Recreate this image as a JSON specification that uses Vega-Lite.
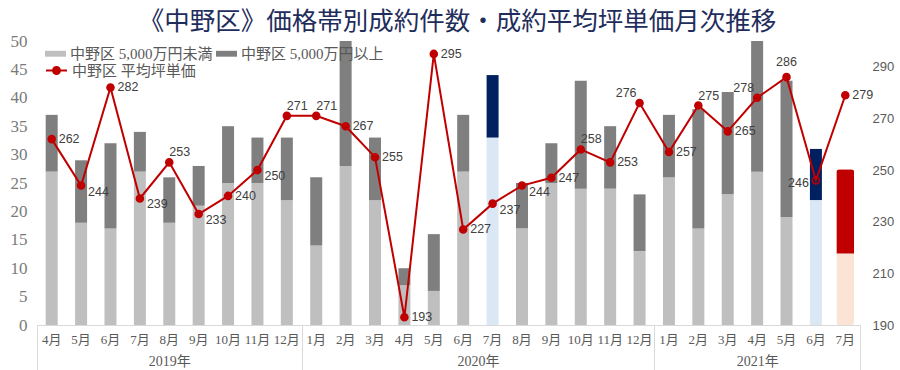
{
  "$schema": "https://vega.github.io/schema/vega-lite/v6.json",
  "width": 823,
  "height": 284,
  "autosize": {"type": "none"},
  "padding": {"left": 37, "top": 41, "right": 40, "bottom": 45},
  "background": "white",
  "config": {"view": {"stroke": null}, "axis": {"grid": false}},
  "title": {
    "text": "《中野区》価格帯別成約件数・成約平均坪単価月次推移",
    "font": "Noto Sans CJK JP",
    "fontSize": 25.5,
    "fontWeight": "normal",
    "color": "#1f2d5c",
    "anchor": "middle",
    "offset": -3,
    "dx": 9
  },
  "datasets": {
    "counts": [
      {"ym": "2019-04", "series": "中野区 5,000万円未満", "count": 27}, {"ym": "2019-04", "series": "中野区 5,000万円以上", "count": 10},
      {"ym": "2019-05", "series": "中野区 5,000万円未満", "count": 18}, {"ym": "2019-05", "series": "中野区 5,000万円以上", "count": 11},
      {"ym": "2019-06", "series": "中野区 5,000万円未満", "count": 17}, {"ym": "2019-06", "series": "中野区 5,000万円以上", "count": 15},
      {"ym": "2019-07", "series": "中野区 5,000万円未満", "count": 27}, {"ym": "2019-07", "series": "中野区 5,000万円以上", "count": 7},
      {"ym": "2019-08", "series": "中野区 5,000万円未満", "count": 18}, {"ym": "2019-08", "series": "中野区 5,000万円以上", "count": 8},
      {"ym": "2019-09", "series": "中野区 5,000万円未満", "count": 21}, {"ym": "2019-09", "series": "中野区 5,000万円以上", "count": 7},
      {"ym": "2019-10", "series": "中野区 5,000万円未満", "count": 25}, {"ym": "2019-10", "series": "中野区 5,000万円以上", "count": 10},
      {"ym": "2019-11", "series": "中野区 5,000万円未満", "count": 25}, {"ym": "2019-11", "series": "中野区 5,000万円以上", "count": 8},
      {"ym": "2019-12", "series": "中野区 5,000万円未満", "count": 22}, {"ym": "2019-12", "series": "中野区 5,000万円以上", "count": 11},
      {"ym": "2020-01", "series": "中野区 5,000万円未満", "count": 14}, {"ym": "2020-01", "series": "中野区 5,000万円以上", "count": 12},
      {"ym": "2020-02", "series": "中野区 5,000万円未満", "count": 28}, {"ym": "2020-02", "series": "中野区 5,000万円以上", "count": 22},
      {"ym": "2020-03", "series": "中野区 5,000万円未満", "count": 22}, {"ym": "2020-03", "series": "中野区 5,000万円以上", "count": 11},
      {"ym": "2020-04", "series": "中野区 5,000万円未満", "count": 7}, {"ym": "2020-04", "series": "中野区 5,000万円以上", "count": 3},
      {"ym": "2020-05", "series": "中野区 5,000万円未満", "count": 6}, {"ym": "2020-05", "series": "中野区 5,000万円以上", "count": 10},
      {"ym": "2020-06", "series": "中野区 5,000万円未満", "count": 27}, {"ym": "2020-06", "series": "中野区 5,000万円以上", "count": 10},
      {"ym": "2020-07", "series": "中野区 5,000万円未満", "count": 33}, {"ym": "2020-07", "series": "中野区 5,000万円以上", "count": 11},
      {"ym": "2020-08", "series": "中野区 5,000万円未満", "count": 17}, {"ym": "2020-08", "series": "中野区 5,000万円以上", "count": 8},
      {"ym": "2020-09", "series": "中野区 5,000万円未満", "count": 25}, {"ym": "2020-09", "series": "中野区 5,000万円以上", "count": 7},
      {"ym": "2020-10", "series": "中野区 5,000万円未満", "count": 24}, {"ym": "2020-10", "series": "中野区 5,000万円以上", "count": 19},
      {"ym": "2020-11", "series": "中野区 5,000万円未満", "count": 24}, {"ym": "2020-11", "series": "中野区 5,000万円以上", "count": 11},
      {"ym": "2020-12", "series": "中野区 5,000万円未満", "count": 13}, {"ym": "2020-12", "series": "中野区 5,000万円以上", "count": 10},
      {"ym": "2021-01", "series": "中野区 5,000万円未満", "count": 26}, {"ym": "2021-01", "series": "中野区 5,000万円以上", "count": 11},
      {"ym": "2021-02", "series": "中野区 5,000万円未満", "count": 17}, {"ym": "2021-02", "series": "中野区 5,000万円以上", "count": 21},
      {"ym": "2021-03", "series": "中野区 5,000万円未満", "count": 23}, {"ym": "2021-03", "series": "中野区 5,000万円以上", "count": 18},
      {"ym": "2021-04", "series": "中野区 5,000万円未満", "count": 27}, {"ym": "2021-04", "series": "中野区 5,000万円以上", "count": 23},
      {"ym": "2021-05", "series": "中野区 5,000万円未満", "count": 19}, {"ym": "2021-05", "series": "中野区 5,000万円以上", "count": 24},
      {"ym": "2021-06", "series": "中野区 5,000万円未満", "count": 22}, {"ym": "2021-06", "series": "中野区 5,000万円以上", "count": 9},
      {"ym": "2021-07", "series": "中野区 5,000万円未満", "count": 12.6}, {"ym": "2021-07", "series": "中野区 5,000万円以上", "count": 14.8}
    ],
    "prices": [
      {"ym": "2019-04", "price": 262}, {"ym": "2019-05", "price": 244}, {"ym": "2019-06", "price": 282},
      {"ym": "2019-07", "price": 239}, {"ym": "2019-08", "price": 253}, {"ym": "2019-09", "price": 233},
      {"ym": "2019-10", "price": 240}, {"ym": "2019-11", "price": 250}, {"ym": "2019-12", "price": 271},
      {"ym": "2020-01", "price": 271}, {"ym": "2020-02", "price": 267}, {"ym": "2020-03", "price": 255},
      {"ym": "2020-04", "price": 193}, {"ym": "2020-05", "price": 295}, {"ym": "2020-06", "price": 227},
      {"ym": "2020-07", "price": 237}, {"ym": "2020-08", "price": 244}, {"ym": "2020-09", "price": 247},
      {"ym": "2020-10", "price": 258}, {"ym": "2020-11", "price": 253}, {"ym": "2020-12", "price": 276},
      {"ym": "2021-01", "price": 257}, {"ym": "2021-02", "price": 275}, {"ym": "2021-03", "price": 265},
      {"ym": "2021-04", "price": 278}, {"ym": "2021-05", "price": 286}, {"ym": "2021-06", "price": 246},
      {"ym": "2021-07", "price": 279}
    ]
  },
  "layer": [
    {
      "data": {"name": "counts"},
      "encoding": {
        "x": {
          "field": "ym",
          "type": "ordinal",
          "scale": {"paddingInner": 0, "paddingOuter": 0},
          "axis": {
            "orient": "bottom",
            "title": null,
            "ticks": false,
            "domainColor": "#d9d9d9",
            "labelExpr": "toNumber(slice(datum.value, 5)) + '月'",
            "labelFont": "Liberation Serif, Noto Sans CJK JP",
            "labelFontSize": 13,
            "labelColor": "#595959",
            "labelPadding": 8,
            "labelAngle": 0,
            "labelOverlap": false
          }
        },
        "y": {
          "field": "count",
          "type": "quantitative",
          "stack": "zero",
          "scale": {"domain": [0, 50], "nice": false},
          "axis": {
            "title": null,
            "values": [0, 5, 10, 15, 20, 25, 30, 35, 40, 45, 50],
            "ticks": false,
            "domain": false,
            "labelFont": "Liberation Serif",
            "labelFontSize": 17,
            "labelColor": "#7a7a7a",
            "labelPadding": 10
          }
        },
        "color": {
          "field": "series",
          "type": "nominal",
          "scale": {"domain": ["中野区 5,000万円未満", "中野区 5,000万円以上"], "range": ["#bfbfbf", "#7f7f7f"]},
          "legend": {
            "title": null,
            "orient": "none",
            "legendX": 8,
            "legendY": 2,
            "direction": "horizontal",
            "symbolType": "M-1,-0.28H1V0.28H-1Z",
            "symbolSize": 441,
            "symbolStrokeWidth": 0,
            "labelFont": "Liberation Serif, Noto Sans CJK JP",
            "labelFontSize": 15,
            "labelColor": "#595959",
            "labelOffset": 4,
            "columnPadding": 3
          },
          "condition": [
            {"test": "(datum.ym == '2020-07' || datum.ym == '2021-06') && datum.series == '中野区 5,000万円未満'", "value": "#dae8f6"},
            {"test": "(datum.ym == '2020-07' || datum.ym == '2021-06') && datum.series == '中野区 5,000万円以上'", "value": "#002060"},
            {"test": "datum.ym == '2021-07' && datum.series == '中野区 5,000万円未満'", "value": "#fbe4d5"},
            {"test": "datum.ym == '2021-07' && datum.series == '中野区 5,000万円以上'", "value": "#c00000"}
          ]
        },
        "order": {"field": "series", "sort": "descending"}
      },
      "layer": [
        {"transform": [{"filter": "datum.ym != '2021-07'"}], "mark": {"type": "bar", "size": 12}},
        {"transform": [{"filter": "datum.ym == '2021-07'"}], "mark": {"type": "bar", "size": 18, "cornerRadius": 3}}
      ]
    },
    {
      "data": {"name": "prices"},
      "encoding": {
        "x": {
          "field": "ym",
          "type": "ordinal",
          "axis": {
            "orient": "bottom",
            "title": null,
            "domain": false,
            "tickBand": "extent",
            "tickSize": 45,
            "tickWidth": 1,
            "tickColor": {"condition": {"test": "datum.extra || indexof(['2019-12', '2020-12', '2021-07'], datum.value) >= 0", "value": "#d9d9d9"}, "value": "rgba(0,0,0,0)"},
            "labelExpr": "datum.value == '2019-08' ? '2019年' : datum.value == '2020-06' ? '2020年' : datum.value == '2021-04' ? '2021年' : ''",
            "labelOffset": {"condition": {"test": "datum.value == '2020-06'", "value": 14.7}, "value": 0},
            "labelPadding": -16,
            "labelFont": "Liberation Serif, Noto Sans CJK JP",
            "labelFontSize": 14,
            "labelColor": "#595959",
            "labelAngle": 0,
            "labelOverlap": false
          }
        },
        "y": {
          "field": "price",
          "type": "quantitative",
          "scale": {"domain": [190, 300], "nice": false, "zero": false},
          "axis": {
            "orient": "right",
            "title": null,
            "values": [190, 210, 230, 250, 270, 290],
            "ticks": false,
            "domain": false,
            "labelFont": "Liberation Sans",
            "labelFontSize": 13,
            "labelColor": "#595959",
            "labelPadding": 12
          }
        }
      },
      "layer": [
        {
          "mark": {"type": "line", "strokeWidth": 2},
          "encoding": {
            "stroke": {
              "datum": "中野区 平均坪単価",
              "type": "nominal",
              "scale": {"range": ["#c00000"]},
              "legend": {
                "title": null,
                "orient": "none",
                "legendX": 8,
                "legendY": 18,
                "symbolType": "M-1,0H1M-0.33,0A0.33,0.33,0,1,0,0.33,0A0.33,0.33,0,1,0,-0.33,0Z",
                "symbolSize": 441,
                "symbolStrokeWidth": 2,
                "symbolStrokeColor": "#c00000",
                "symbolFillColor": "#c00000",
                "labelFont": "Liberation Serif, Noto Sans CJK JP",
                "labelFontSize": 15,
                "labelColor": "#595959",
                "labelOffset": 4,
                "encode": {"symbols": {"update": {"fill": {"value": "#c00000"}, "stroke": {"value": "#c00000"}}}}
              }
            }
          }
        },
        {
          "mark": {"type": "point", "size": 50, "stroke": "#c00000", "strokeWidth": 1.5, "opacity": 1},
          "encoding": {
            "fill": {"condition": {"test": "datum.ym == '2021-06'", "value": "rgba(0,0,0,0)"}, "value": "#c00000"}
          }
        },
        {
          "transform": [{"filter": {"not": {"field": "ym", "oneOf": ["2019-05", "2019-07", "2019-09", "2019-11", "2020-07", "2020-08", "2019-08", "2019-12", "2020-01", "2020-10", "2021-02", "2021-05", "2020-12", "2021-04", "2021-06"]}}}],
          "mark": {"type": "text", "align": "left", "baseline": "middle", "dx": 7, "dy": 0, "font": "Liberation Sans", "fontSize": 12.5, "color": "#404040"},
          "encoding": {"text": {"field": "price", "type": "quantitative"}}
        },
        {
          "transform": [{"filter": {"field": "ym", "oneOf": ["2019-05", "2019-07", "2019-09", "2019-11", "2020-07", "2020-08"]}}],
          "mark": {"type": "text", "align": "left", "baseline": "middle", "dx": 7, "dy": 6, "font": "Liberation Sans", "fontSize": 12.5, "color": "#404040"},
          "encoding": {"text": {"field": "price", "type": "quantitative"}}
        },
        {
          "transform": [{"filter": {"field": "ym", "oneOf": ["2019-08", "2019-12", "2020-01", "2020-10", "2021-02"]}}],
          "mark": {"type": "text", "align": "left", "baseline": "middle", "dx": 0, "dy": -10, "font": "Liberation Sans", "fontSize": 12.5, "color": "#404040"},
          "encoding": {"text": {"field": "price", "type": "quantitative"}}
        },
        {
          "transform": [{"filter": {"field": "ym", "oneOf": ["2021-05"]}}],
          "mark": {"type": "text", "align": "center", "baseline": "middle", "dx": 0, "dy": -15, "font": "Liberation Sans", "fontSize": 12.5, "color": "#404040"},
          "encoding": {"text": {"field": "price", "type": "quantitative"}}
        },
        {
          "transform": [{"filter": {"field": "ym", "oneOf": ["2020-12", "2021-04"]}}],
          "mark": {"type": "text", "align": "right", "baseline": "middle", "dx": -3, "dy": -10, "font": "Liberation Sans", "fontSize": 12.5, "color": "#404040"},
          "encoding": {"text": {"field": "price", "type": "quantitative"}}
        },
        {
          "transform": [{"filter": {"field": "ym", "oneOf": ["2021-06"]}}],
          "mark": {"type": "text", "align": "right", "baseline": "middle", "dx": -7, "dy": 3, "font": "Liberation Sans", "fontSize": 12.5, "color": "#404040"},
          "encoding": {"text": {"field": "price", "type": "quantitative"}}
        }
      ]
    }
  ],
  "resolve": {"scale": {"y": "independent"}, "axis": {"x": "independent"}}
}
